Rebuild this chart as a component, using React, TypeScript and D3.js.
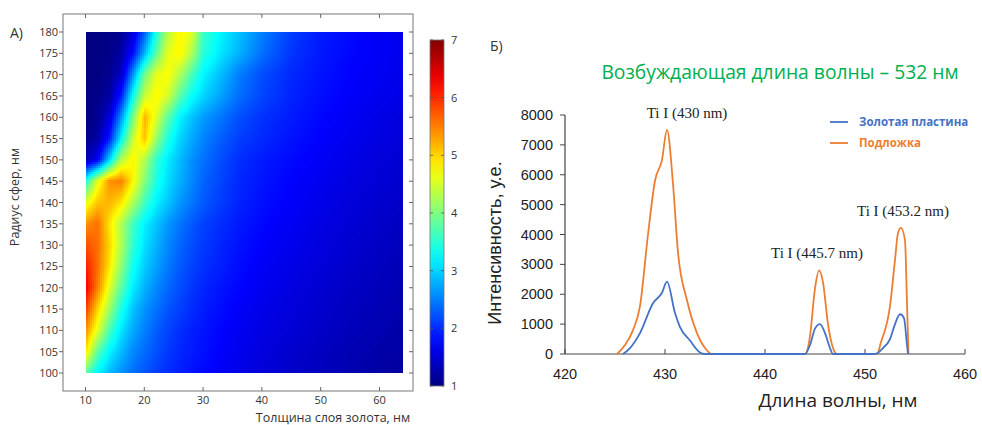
import React, { useEffect, useRef } from "react";
import * as d3 from "d3";

// ---------- Panel A: heat map ----------
const thicknessCols = [10, 12, 14, 16, 18, 20, 22, 24, 26, 28, 30, 33, 36, 40, 45, 50, 55, 60, 64];
const radiusRows = [100, 105, 110, 115, 120, 125, 130, 135, 140, 145, 150, 155, 160, 165, 170, 175, 180];
const heatR100 = [3.8, 3.2, 2.85, 2.6, 2.4, 2.25, 2.1, 2.0, 1.92, 1.85, 1.78, 1.7, 1.62, 1.52, 1.43, 1.36, 1.28, 1.22, 1.18];
const heatR105 = [4.9, 3.8, 3.2, 2.85, 2.55, 2.38, 2.22, 2.07, 1.97, 1.9, 1.83, 1.74, 1.65, 1.55, 1.46, 1.38, 1.3, 1.24, 1.2];
const heatR110 = [5.4, 4.6, 3.7, 3.1, 2.75, 2.5, 2.3, 2.14, 2.02, 1.93, 1.86, 1.76, 1.67, 1.58, 1.5, 1.42, 1.34, 1.28, 1.23];
const heatR115 = [5.9, 5.0, 4.2, 3.4, 2.9, 2.62, 2.42, 2.24, 2.12, 2.0, 1.91, 1.81, 1.72, 1.62, 1.53, 1.45, 1.37, 1.31, 1.26];
const heatR120 = [6.3, 5.5, 4.6, 3.8, 3.15, 2.8, 2.55, 2.36, 2.2, 2.07, 1.96, 1.86, 1.77, 1.66, 1.57, 1.48, 1.4, 1.34, 1.29];
const heatR125 = [6.1, 5.6, 4.9, 4.1, 3.35, 2.95, 2.7, 2.46, 2.28, 2.14, 2.03, 1.92, 1.81, 1.7, 1.6, 1.52, 1.44, 1.37, 1.32];
const heatR130 = [5.8, 5.6, 5.0, 4.3, 3.55, 3.08, 2.8, 2.55, 2.35, 2.2, 2.08, 1.96, 1.85, 1.74, 1.64, 1.55, 1.47, 1.4, 1.35];
const heatR135 = [5.4, 5.6, 4.9, 4.3, 3.65, 3.18, 2.9, 2.64, 2.44, 2.27, 2.13, 2.0, 1.89, 1.78, 1.68, 1.58, 1.5, 1.43, 1.38];
const heatR140 = [4.6, 5.1, 5.2, 4.9, 4.3, 3.65, 3.18, 2.9, 2.64, 2.45, 2.27, 2.1, 1.95, 1.83, 1.72, 1.62, 1.53, 1.46, 1.42];
const heatR145 = [3.4, 4.6, 5.4, 5.5, 4.8, 4.05, 3.42, 3.05, 2.78, 2.55, 2.33, 2.14, 1.98, 1.86, 1.75, 1.65, 1.56, 1.5, 1.45];
const heatR150 = [1.3, 1.7, 3.0, 4.3, 4.8, 4.3, 3.55, 3.12, 2.85, 2.6, 2.42, 2.2, 2.02, 1.9, 1.79, 1.7, 1.6, 1.53, 1.48];
const heatR155 = [1.05, 1.2, 1.9, 3.2, 4.4, 5.1, 4.15, 3.42, 3.0, 2.75, 2.52, 2.3, 2.12, 1.98, 1.85, 1.74, 1.65, 1.57, 1.52];
const heatR160 = [1.0, 1.1, 1.5, 2.6, 3.9, 5.2, 4.55, 3.8, 3.2, 2.9, 2.67, 2.44, 2.22, 2.04, 1.9, 1.78, 1.68, 1.6, 1.55];
const heatR165 = [1.0, 1.05, 1.2, 1.9, 3.3, 4.4, 4.8, 4.5, 3.8, 3.3, 3.0, 2.7, 2.4, 2.15, 1.95, 1.82, 1.72, 1.65, 1.6];
const heatR170 = [1.0, 1.02, 1.1, 1.4, 2.6, 3.9, 4.6, 4.75, 4.3, 3.7, 3.2, 2.85, 2.5, 2.2, 1.98, 1.85, 1.75, 1.68, 1.62];
const heatR175 = [1.0, 1.0, 1.05, 1.2, 1.8, 2.8, 3.8, 4.6, 4.8, 4.3, 3.5, 3.1, 2.8, 2.4, 2.05, 1.88, 1.78, 1.7, 1.65];
const heatR180 = [1.0, 1.0, 1.05, 1.1, 1.5, 2.3, 3.4, 4.3, 4.8, 4.6, 3.6, 3.2, 2.9, 2.5, 2.1, 1.9, 1.8, 1.7, 1.65];
const heatRows = [heatR100, heatR105, heatR110, heatR115, heatR120, heatR125, heatR130, heatR135, heatR140,
  heatR145, heatR150, heatR155, heatR160, heatR165, heatR170, heatR175, heatR180];
const heatXTicks = [10, 20, 30, 40, 50, 60];
const heatYTicks = [100, 105, 110, 115, 120, 125, 130, 135, 140, 145, 150, 155, 160, 165, 170, 175, 180];
const colorTicks = [1, 2, 3, 4, 5, 6, 7];

// ---------- Panel Б: spectra ----------
const waveOrange = [425.2, 426, 426.8, 427.5, 428.3, 429, 429.7, 430.2, 430.8, 431.3, 432.2, 433.2, 434, 434.7,
  440, 444, 444.5, 445, 445.4, 445.8, 446.3, 446.8, 447.2, 451.2, 451.6, 452.5, 453, 453.3, 453.6, 454, 454.2, 454.35];
const intensityOrange = [0, 300, 800, 1600, 4000, 5800, 6500, 7500, 5700, 3400, 1800, 700, 200, 0,
  0, 0, 600, 2200, 2800, 2400, 1000, 200, 0, 0, 400, 1600, 3150, 4050, 4220, 3800, 1700, 0];
const waveBlue = [425.8, 426.5, 427.5, 428.8, 429.7, 430.2, 431, 431.5, 432.5, 433.5, 434, 440, 444, 444.5, 445,
  445.5, 446, 446.5, 446.8, 451, 451.8, 452.5, 453, 453.5, 453.9, 454.2, 454.3];
const intensityBlue = [0, 200, 700, 1700, 2050, 2420, 1370, 900, 450, 50, 0, 0, 0, 300, 850,
  1000, 700, 200, 0, 0, 200, 500, 1000, 1330, 1200, 300, 0];
const specXTicks = [420, 430, 440, 450, 460];
const specYTicks = [0, 1000, 2000, 3000, 4000, 5000, 6000, 7000, 8000];
const seriesNames = ["Золотая пластина", "Подложка"];
const peakLabels = ["Ti I (430 nm)", "Ti I (445.7 nm)", "Ti I (453.2 nm)"];
const peakWaves = [430.2, 445.4, 453.6];
const peakHeights = [7500, 2800, 4220];

const ORANGE = "#ED7D31";
const BLUE = "#4472C4";

const jet = d3
  .scaleLinear<string>()
  .domain([1, 1.75, 3.25, 4.75, 6.25, 7])
  .range(["#000080", "#0000ff", "#00ffff", "#ffff00", "#ff0000", "#800000"])
  .interpolate(d3.interpolateRgb)
  .clamp(true);

function interpHeat(t: number, r: number): number {
  const ci = Math.max(0, Math.min(thicknessCols.length - 2, d3.bisectRight(thicknessCols, t) - 1));
  const ri = Math.max(0, Math.min(radiusRows.length - 2, d3.bisectRight(radiusRows, r) - 1));
  const fx = (t - thicknessCols[ci]) / (thicknessCols[ci + 1] - thicknessCols[ci]);
  const fy = (r - radiusRows[ri]) / (radiusRows[ri + 1] - radiusRows[ri]);
  const a = heatRows[ri][ci], b = heatRows[ri][ci + 1];
  const c = heatRows[ri + 1][ci], d = heatRows[ri + 1][ci + 1];
  return (a * (1 - fx) + b * fx) * (1 - fy) + (c * (1 - fx) + d * fx) * fy;
}

export default function App() {
  const heatRef = useRef<SVGGElement>(null);

  const xH = d3.scaleLinear().domain([10, 64]).range([85.5, 403]);
  const yH = d3.scaleLinear().domain([100, 180]).range([373, 32]);
  const yC = d3.scaleLinear().domain([1, 7]).range([386, 40]);

  const xS = d3.scaleLinear().domain([420, 460]).range([565, 965]);
  const yS = d3.scaleLinear().domain([0, 8000]).range([354, 115]);

  useEffect(() => {
    if (!heatRef.current) return;
    const cells: { x: number; y: number; c: string }[] = [];
    const step = 2;
    const [px0, px1] = xH.range();
    const [py1, py0] = yH.range();
    for (let px = px0; px < px1; px += step) {
      for (let py = py0; py < py1; py += step) {
        const t = xH.invert(Math.min(px + step / 2, px1));
        const r = yH.invert(Math.min(py + step / 2, py1));
        cells.push({ x: px, y: py, c: jet(interpHeat(t, r)) });
      }
    }
    d3.select(heatRef.current)
      .selectAll("rect")
      .data(cells)
      .join("rect")
      .attr("x", (d) => d.x)
      .attr("y", (d) => d.y)
      .attr("width", (d) => Math.min(step + 0.6, px1 - d.x))
      .attr("height", (d) => Math.min(step + 0.6, py1 - d.y))
      .attr("fill", (d) => d.c)
      .attr("shape-rendering", "crispEdges");
  }, []);

  const lineGen = d3
    .line<[number, number]>()
    .x((d) => xS(d[0]))
    .y((d) => yS(d[1]))
    .curve(d3.curveMonotoneX);
  const orangePts = waveOrange.map((w, i) => [w, intensityOrange[i]] as [number, number]);
  const bluePts = waveBlue.map((w, i) => [w, intensityBlue[i]] as [number, number]);

  const cbStops = d3.range(0, 21).map((i) => 1 + (i * 6) / 20);
  const frame = { l: 63, r: 413, t: 14, b: 391 };
  const sans = "'Open Sans', 'DejaVu Sans', sans-serif";
  const arial = "'Liberation Sans', Arial, sans-serif";

  return (
    <svg width={982} height={425} style={{ position: "absolute", left: 0, top: 0, background: "#fff" }}>
      <defs>
        <linearGradient id="cbgrad" x1="0" y1="1" x2="0" y2="0">
          {cbStops.map((v, i) => (
            <stop key={i} offset={`${(i / 20) * 100}%`} stopColor={jet(v)} />
          ))}
        </linearGradient>
      </defs>

      {/* ---------- Panel A ---------- */}
      <text x={10} y={38} fontFamily={sans} fontSize={14} fill="#333">А)</text>
      <g ref={heatRef} />
      <rect x={frame.l} y={frame.t} width={frame.r - frame.l} height={frame.b - frame.t}
        fill="none" stroke="#777" strokeWidth={1} />
      {heatYTicks.map((v) => (
        <g key={"hy" + v}>
          <line x1={frame.l - 4} x2={frame.l} y1={yH(v)} y2={yH(v)} stroke="#666" />
          <line x1={frame.r - 4} x2={frame.r} y1={yH(v)} y2={yH(v)} stroke="#666" />
          <text x={58} y={yH(v) + 4} textAnchor="end" fontFamily={sans} fontSize={11} fill="#333">{v}</text>
        </g>
      ))}
      {heatXTicks.map((v) => (
        <g key={"hx" + v}>
          <line x1={xH(v)} x2={xH(v)} y1={frame.b} y2={frame.b - 4} stroke="#666" />
          <line x1={xH(v)} x2={xH(v)} y1={frame.t} y2={frame.t + 4} stroke="#666" />
          <text x={xH(v)} y={403.5} textAnchor="middle" fontFamily={sans} fontSize={11} fill="#333">{v}</text>
        </g>
      ))}
      <text x={333} y={421.5} textAnchor="middle" fontFamily={sans} fontSize={12.5} fill="#333">
        Толщина слоя золота, нм
      </text>
      <text transform="translate(19,197) rotate(-90)" textAnchor="middle" fontFamily={sans} fontSize={12.5} fill="#333">
        Радиус сфер, нм
      </text>

      {/* colorbar */}
      <rect x={430} y={yC(7)} width={14} height={yC(1) - yC(7)} fill="url(#cbgrad)" stroke="#777" strokeWidth={0.8} />
      {colorTicks.map((v) => (
        <g key={"cb" + v}>
          <line x1={430} x2={433} y1={yC(v)} y2={yC(v)} stroke="#555" strokeWidth={0.8} />
          <line x1={441} x2={444} y1={yC(v)} y2={yC(v)} stroke="#555" strokeWidth={0.8} />
          <text x={451} y={yC(v) + 4} fontFamily={sans} fontSize={11} fill="#333">{v}</text>
        </g>
      ))}

      {/* ---------- Panel Б ---------- */}
      <text x={490} y={51} fontFamily={sans} fontSize={14} fill="#333">Б)</text>
      <text x={780} y={79} textAnchor="middle" fontFamily={sans} fontSize={19.3} fill="#00B050">
        Возбуждающая длина волны – 532 нм
      </text>

      <line x1={xS(420)} x2={xS(460)} y1={yS(0)} y2={yS(0)} stroke="#444" strokeWidth={1.2} />
      <line x1={xS(420)} x2={xS(420)} y1={yS(0)} y2={yS(8000)} stroke="#444" strokeWidth={1.2} />
      {specYTicks.map((v) => (
        <g key={"sy" + v}>
          <line x1={xS(420) - 5} x2={xS(420)} y1={yS(v)} y2={yS(v)} stroke="#444" />
          <text x={553} y={yS(v) + 5} textAnchor="end" fontFamily={arial} fontSize={14.5} fill="#222">{v}</text>
        </g>
      ))}
      {specXTicks.map((v) => (
        <g key={"sx" + v}>
          <line x1={xS(v)} x2={xS(v)} y1={yS(0)} y2={yS(0) - 5} stroke="#444" />
          <text x={xS(v)} y={379} textAnchor="middle" fontFamily={arial} fontSize={14.5} fill="#222">{v}</text>
        </g>
      ))}
      <text transform="translate(501,243) rotate(-90)" textAnchor="middle" fontFamily={arial} fontSize={18} fill="#222">
        Интенсивность, у.е.
      </text>
      <text x={838} y={407} textAnchor="middle" fontFamily={sans} fontSize={19} fill="#222">
        Длина волны, нм
      </text>

      <path d={lineGen(orangePts) || ""} fill="none" stroke={ORANGE} strokeWidth={1.8} />
      <path d={lineGen(bluePts) || ""} fill="none" stroke={BLUE} strokeWidth={1.8} />

      {peakLabels.map((s, i) => (
        <text key={s} x={xS(peakWaves[i]) + (i === 0 ? 20 : i === 1 ? -2 : 2)} y={yS(peakHeights[i]) - 12}
          textAnchor="middle" fontFamily="'Liberation Serif', 'Times New Roman', serif" fontSize={15} fill="#222">
          {s}
        </text>
      ))}

      {/* legend */}
      <line x1={830} x2={848} y1={122} y2={122} stroke={BLUE} strokeWidth={1.8} />
      <text x={859} y={126} fontFamily={sans} fontSize={11.5} fontWeight="bold" fill={BLUE}>{seriesNames[0]}</text>
      <line x1={830} x2={848} y1={143} y2={143} stroke={ORANGE} strokeWidth={1.8} />
      <text x={859} y={147} fontFamily={sans} fontSize={11.5} fontWeight="bold" fill={ORANGE}>{seriesNames[1]}</text>
    </svg>
  );
}
